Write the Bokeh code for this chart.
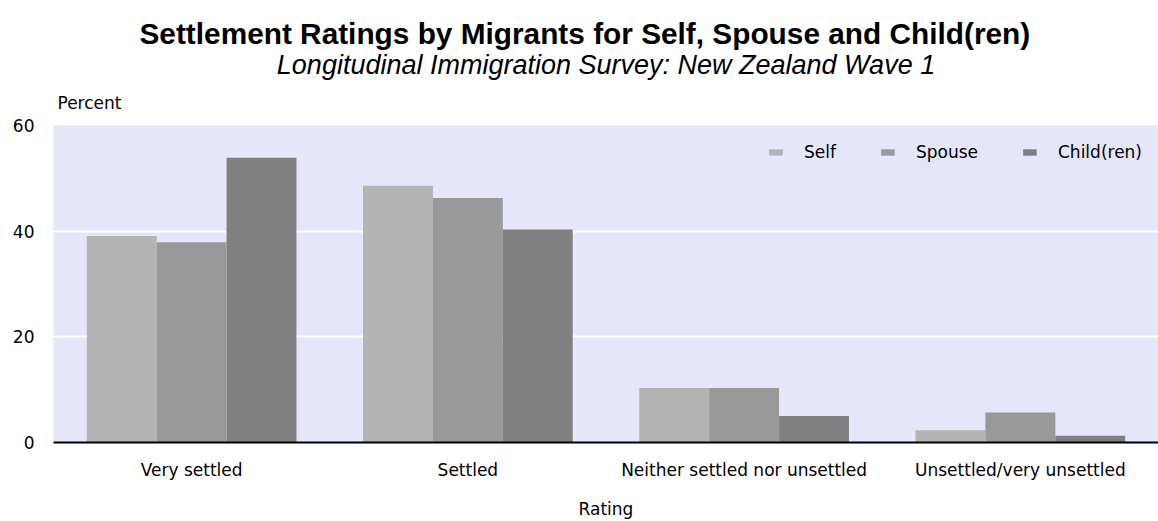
from bokeh.plotting import figure
from bokeh.models import FactorRange, Title, FixedTicker, Legend, LegendItem, ColumnDataSource
from bokeh.transform import dodge
from bokeh.embed import file_html
from bokeh.resources import INLINE

# ---- data ----
categories = ["Very settled", "Settled", "Neither settled nor unsettled", "Unsettled/very unsettled"]
series_names = ["Self", "Spouse", "Child(ren)"]
self_pct = [39.1, 48.6, 10.3, 2.3]
spouse_pct = [37.9, 46.3, 10.3, 5.7]
child_pct = [53.9, 40.3, 5.0, 1.3]
y_ticks = [0, 20, 40, 60]

title_text = "Settlement Ratings by Migrants for Self, Spouse and Child(ren)"
subtitle_text = "Longitudinal Immigration Survey: New Zealand Wave 1"
y_label = "Percent"
x_label = "Rating"

# ---- styles ----
colors = ["#b3b3b3", "#999999", "#808080"]
LABEL_FONT = "DejaVu Sans"
TITLE_FONT = "Liberation Sans"
BAR_W = 0.253

source = ColumnDataSource(dict(cat=categories, self_v=self_pct, spouse_v=spouse_pct, child_v=child_pct))

p = figure(
    x_range=FactorRange(*categories),
    y_range=(0, 60),
    width=1158, height=521,
    output_backend="svg",
    toolbar_location=None,
    min_border_left=53, min_border_right=0, min_border_top=125, min_border_bottom=0,
)
p.background_fill_color = "#e6e6fa"
p.border_fill_color = "white"
p.outline_line_color = None

renderers = []
for key, off, col in zip(["self_v", "spouse_v", "child_v"], [-BAR_W, 0, BAR_W], colors):
    r = p.vbar(x=dodge("cat", off, range=p.x_range), top=key, width=BAR_W, bottom=0,
               source=source, fill_color=col, line_color=None)
    renderers.append(r)

# grid
p.xgrid.grid_line_color = None
p.ygrid.grid_line_color = "white"
p.ygrid.grid_line_width = 2
p.yaxis.ticker = FixedTicker(ticks=y_ticks)

# y axis
p.yaxis.axis_line_color = None
p.yaxis.major_tick_line_color = None
p.yaxis.minor_tick_line_color = None
p.yaxis.major_tick_out = 0
p.yaxis.major_label_standoff = 19
p.yaxis.major_label_text_font = LABEL_FONT
p.yaxis.major_label_text_font_size = "17px"
p.yaxis.major_label_text_color = "black"

# x axis
p.xaxis.axis_line_color = "black"
p.xaxis.axis_line_width = 2
p.xaxis.major_tick_line_color = None
p.xaxis.minor_tick_line_color = None
p.xaxis.major_tick_out = 0
p.xaxis.major_label_standoff = 17
p.xaxis.major_label_text_font = LABEL_FONT
p.xaxis.major_label_text_font_size = "17px"
p.xaxis.major_label_text_color = "black"
p.xaxis.axis_label = x_label
p.xaxis.axis_label_text_font = LABEL_FONT
p.xaxis.axis_label_text_font_size = "17px"
p.xaxis.axis_label_text_font_style = "normal"
p.xaxis.axis_label_text_color = "black"
p.xaxis.axis_label_standoff = 16

# legend
legend = Legend(
    items=[LegendItem(label=n, renderers=[r]) for n, r in zip(series_names, renderers)],
    location="top_right", orientation="horizontal",
    glyph_width=17, glyph_height=8, label_standoff=20, spacing=43,
    label_height=22,
    margin=16, padding=12,
    label_text_font=LABEL_FONT, label_text_font_size="17px", label_text_color="black",
    background_fill_alpha=0, border_line_color=None,
)
p.add_layout(legend, "center")

# titles (closest to the plot first)
p.add_layout(Title(text=y_label, align="left", offset=4, text_font=LABEL_FONT,
                   text_font_size="17px", text_font_style="normal", text_color="black",
                   standoff=26), "above")
p.add_layout(Title(text=subtitle_text, align="center", text_font=TITLE_FONT,
                   text_font_size="27px", text_font_style="italic", text_color="black",
                   standoff=-5), "above")
p.add_layout(Title(text=title_text, align="left", offset=86, text_font=TITLE_FONT,
                   text_font_size="29.8px", text_font_style="bold", text_color="black",
                   standoff=1), "above")

open("out.html", "w").write(file_html(p, INLINE))
